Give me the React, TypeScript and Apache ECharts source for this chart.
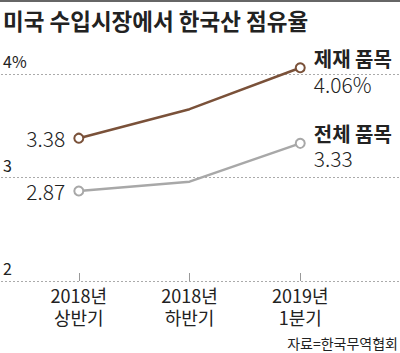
import React, { useEffect, useRef } from "react";
import * as echarts from "echarts";

const categoryYears = ["2018년", "2018년", "2019년"];
const categoryPeriods = ["상반기", "하반기", "1분기"];
const sanctionedShare = [3.38, 3.66, 4.06];
const totalShare = [2.87, 2.96, 3.33];
const sanctionedName = "제재 품목";
const totalName = "전체 품목";
const yTickValues = [2, 3, 4];
const titleText = "미국 수입시장에서 한국산 점유율";
const sourceText = "자료=한국무역협회";

const FONT = "'Noto Sans CJK KR', 'Noto Sans', sans-serif";
const BROWN = "#7a5139";
const GRAY = "#a8a8a8";

function buildData(values: number[], name: string, isPct: boolean, dy: number) {
  return values.map((v, i) => {
    const last = i === values.length - 1;
    const first = i === 0;
    const item: any = { value: [i, v] };
    if (!first && !last) {
      item.symbol = "none";
    }
    if (first) {
      item.label = {
        show: true,
        position: "left",
        distance: 8,
        formatter: v.toFixed(2),
        fontSize: 21,
        fontWeight: 300,
        color: "#222",
        fontFamily: FONT,
      };
    }
    if (last) {
      item.label = {
        show: true,
        position: "right",
        distance: 8,
        offset: [0, dy],
        align: "left",
        formatter: `{n|${name}}\n{v|${v.toFixed(2)}${isPct ? "%" : ""}}`,
        rich: {
          n: { fontSize: 20, fontWeight: "bold", lineHeight: 26, color: "#222", fontFamily: FONT },
          v: { fontSize: 21, fontWeight: 300, lineHeight: 24, color: "#222", fontFamily: FONT },
        },
      };
    }
    return item;
  });
}

export default function App() {
  const ref = useRef<HTMLDivElement>(null);
  useEffect(() => {
    if (!ref.current) return;
    const chart = echarts.init(ref.current, null, { renderer: "svg" });
    const n = categoryYears.length;
    const xMin = -78 / 111;
    const xMax = n - 1 + 100 / 111;
    const idx = categoryYears.map((_, i) => i);
    const labelBase = { fontSize: 18, lineHeight: 20, color: "#222", fontFamily: FONT };
    chart.setOption({
      animation: false,
      textStyle: { fontFamily: FONT },
      title: [
        {
          text: titleText,
          left: 3,
          top: 9,
          padding: 0,
          textStyle: { fontSize: 22.5, fontWeight: "bold", color: "#222", fontFamily: FONT },
        },
        {
          text: sourceText,
          right: 2,
          bottom: 2,
          padding: 0,
          textStyle: { fontSize: 14, fontWeight: "normal", color: "#222", fontFamily: FONT, lineHeight: 16 },
        },
      ],
      graphic: [
        { type: "rect", left: 0, top: 0, shape: { width: 400, height: 2 }, style: { fill: "#666" } },
      ],
      grid: { left: 0, right: 0, top: 74, height: 207 },
      xAxis: [
        {
          type: "value",
          min: xMin,
          max: xMax,
          axisLine: { show: false },
          splitLine: { show: false },
          axisTick: {
            show: true,
            inside: true,
            length: 8,
            customValues: idx,
            lineStyle: { color: "#999", width: 1 },
          },
          axisLabel: {
            ...labelBase,
            customValues: idx,
            formatter: (v: number) => categoryYears[Math.round(v)] ?? "",
            margin: 4,
          },
        },
        {
          type: "value",
          position: "bottom",
          offset: 0,
          min: xMin,
          max: xMax,
          axisLine: { show: false },
          splitLine: { show: false },
          axisTick: { show: false },
          axisLabel: {
            ...labelBase,
            customValues: idx,
            formatter: (v: number) => categoryPeriods[Math.round(v)] ?? "",
            margin: 26,
          },
        },
      ],
      yAxis: {
        type: "value",
        min: 2,
        max: 4,
        interval: 1,
        axisLine: { show: false },
        axisTick: { show: false },
        splitLine: { show: true, lineStyle: { color: "#aaa", type: [2, 2], width: 1 } },
        axisLabel: {
          inside: true,
          margin: 2,
          verticalAlign: "bottom",
          padding: [0, 0, 5, 0],
          fontSize: 16,
          color: "#222",
          fontFamily: FONT,
          formatter: (v: number) => (v === yTickValues[yTickValues.length - 1] ? `${v}%` : `${v}`),
        },
      },
      series: [
        {
          type: "line",
          name: sanctionedName,
          clip: false,
          data: buildData(sanctionedShare, sanctionedName, true, 3),
          symbol: "circle",
          symbolSize: 9,
          itemStyle: { color: "#fff", borderColor: BROWN, borderWidth: 2 },
          lineStyle: { color: BROWN, width: 2.5 },
          z: 3,
        },
        {
          type: "line",
          name: totalName,
          clip: false,
          data: buildData(totalShare, totalName, false, 2),
          symbol: "circle",
          symbolSize: 9,
          itemStyle: { color: "#fff", borderColor: GRAY, borderWidth: 2 },
          lineStyle: { color: GRAY, width: 2.5 },
          z: 3,
        },
      ],
    });
    return () => chart.dispose();
  }, []);
  return (
    <div
      ref={ref}
      style={{ position: "fixed", left: 0, top: 0, width: 400, height: 353, background: "#fff" }}
    />
  );
}
